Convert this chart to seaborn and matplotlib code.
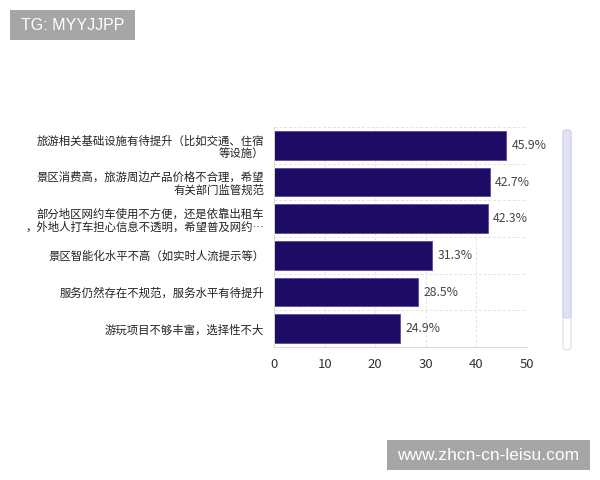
import matplotlib
matplotlib.use('Agg')
import matplotlib.pyplot as plt
import seaborn as sns
import pandas as pd
from matplotlib.patches import FancyBboxPatch, Rectangle

categories = [
    '旅游相关基础设施有待提升（比如交通、住宿\n等设施）',
    '景区消费高，旅游周边产品价格不合理，希望\n有关部门监管规范',
    '部分地区网约车使用不方便，还是依靠出租车\n，外地人打车担心信息不透明，希望普及网约…',
    '景区智能化水平不高（如实时人流提示等）',
    '服务仍然存在不规范，服务水平有待提升',
    '游玩项目不够丰富，选择性不大',
]
values = [45.9, 42.7, 42.3, 31.3, 28.5, 24.9]
xticks = [0, 10, 20, 30, 40, 50]

sns.set_theme(style='white')
plt.rcParams['font.family'] = ['Noto Sans CJK SC', 'DejaVu Sans']

df = pd.DataFrame({'item': categories, 'pct': values})

fig = plt.figure(figsize=(6, 4.8), dpi=100)
ax = fig.add_axes([274 / 600, 1 - 347 / 480, 253 / 600, 220 / 480])

sns.barplot(data=df, y='item', x='pct', orient='h', color='#1e0b66',
            saturation=1, width=0.78, edgecolor='#5b4a9e', linewidth=0.6, ax=ax)

ax.set_xlim(0, 50)
ax.set_ylim(len(categories) - 0.5, -0.5)
ax.set_xticks(xticks)
ax.set_xticklabels([str(t) for t in xticks], fontsize=9.5, color='#333333')
ax.set_yticks(range(len(categories)))
ax.set_yticklabels(categories, fontsize=8.2, color='#222222', linespacing=1.2)
ax.set_xlabel('')
ax.set_ylabel('')
ax.tick_params(axis='y', length=0, pad=7)
ax.tick_params(axis='x', length=3, color='#cccccc', pad=5)

for x in xticks[1:]:
    ax.axvline(x, color='#e3e3e3', lw=0.7, ls=(0, (3, 2)), zorder=0)
for i in range(len(categories) + 1):
    ax.axhline(i - 0.5, color='#e3e3e3', lw=0.7, ls=(0, (3, 2)), zorder=0)

for s in ['top', 'right']:
    ax.spines[s].set_visible(False)
ax.spines['left'].set_color('#d8d8d8')
ax.spines['left'].set_linewidth(0.7)
ax.spines['bottom'].set_color('#d8d8d8')
ax.spines['bottom'].set_linewidth(0.7)

for i, v in enumerate(values):
    ax.text(v + 1.0, i, f'{v}%', va='center', ha='left', fontsize=8.8, color='#444444')

# scrollbar on the right
sx, sw = 563 / 600, 8 / 600
track = FancyBboxPatch((sx, 1 - 350 / 480), sw, 220 / 480,
                       boxstyle='round,pad=0,rounding_size=0.006',
                       transform=fig.transFigure, facecolor='white',
                       edgecolor='#d0d0e0', lw=0.6)
fig.patches.append(track)
handle = FancyBboxPatch((sx, 1 - 318 / 480), sw, 188 / 480,
                        boxstyle='round,pad=0,rounding_size=0.004',
                        transform=fig.transFigure, facecolor='#e2e2f6',
                        edgecolor='#c8c8e2', lw=0.6)
fig.patches.append(handle)

# watermarks
fig.patches.append(Rectangle((10 / 600, 1 - 40 / 480), 125 / 600, 30 / 480,
                             transform=fig.transFigure, facecolor='#a6a6a6', edgecolor='none'))
fig.text(72.5 / 600, 1 - 25 / 480, 'TG: MYYJJPP', fontsize=11.5, color='white',
         va='center', ha='center', family=['Liberation Sans'])
fig.patches.append(Rectangle((387 / 600, 1 - 470 / 480), 203 / 600, 30 / 480,
                             transform=fig.transFigure, facecolor='#a6a6a6', edgecolor='none'))
fig.text(488.5 / 600, 1 - 455 / 480, 'www.zhcn-cn-leisu.com', fontsize=12.5, color='white',
         va='center', ha='center', family=['Liberation Sans'])

fig.savefig('out.png', dpi=100)
